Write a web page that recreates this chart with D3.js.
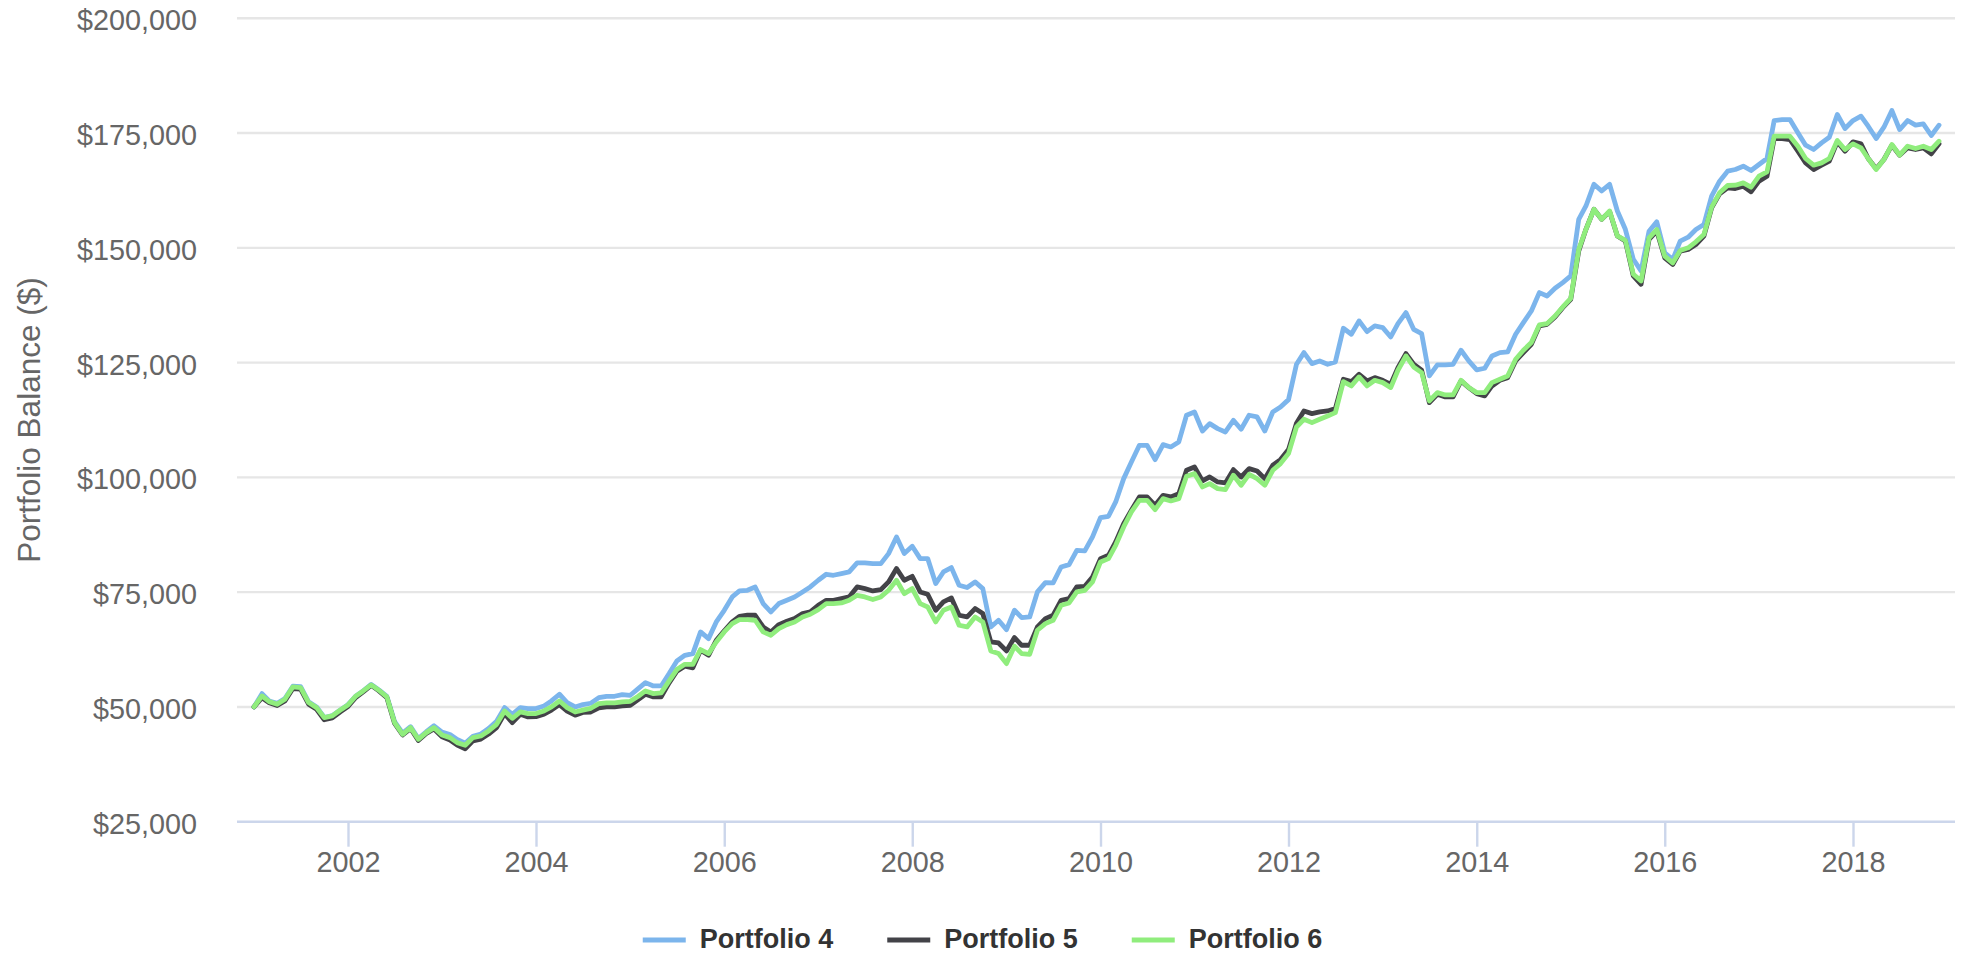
<!DOCTYPE html>
<html>
<head>
<meta charset="utf-8">
<script src="https://cdn.jsdelivr.net/npm/d3@7"></script>
<style>
    body { margin: 0; background: #fff; }
    svg { display: block; font-family: "Liberation Sans", Arial, Helvetica, sans-serif; }
    .axis .domain { stroke: #ccd6eb; stroke-width: 2.4; }
    .x.axis .tick line { stroke: #ccd6eb; stroke-width: 2.4; }
    .axis text { fill: #666666; font-size: 28.8px; }
</style>
</head>
<body>
<div id="chart"></div>
<script>
// monthly balances, Jan 2001 .. Dec 2018
const portfolio4 = [
    50000, 52900, 51300, 50800, 51800, 54500, 54400, 51100, 50000, 47700, 48100, 49300,
    50500, 52400, 53500, 54900, 53700, 52300, 46800, 44300, 45700, 43100, 44600, 45900,
    44500, 44000, 42900, 42100, 43600, 44100, 45300, 46900, 49850, 48400, 49850, 49640,
    49640, 50220, 51300, 52760, 50950, 50000, 50500, 50800, 52030, 52320, 52320, 52690,
    52540, 54000, 55300, 54570, 54570, 57260, 60020, 61250, 61620, 66340, 64880, 68510,
    71050, 73960, 75260, 75410, 76140, 72510, 70690, 72510, 73230, 73960, 75050, 76140,
    77590, 78900, 78680, 79040, 79400, 81360, 81360, 81220, 81220, 83400, 87030, 83400,
    85000, 82310, 82310, 76870, 79400, 80350, 76500, 76000, 77230, 75770, 67420, 68880,
    66840, 71050, 69460, 69600, 75050, 77080, 77010, 80490, 81000, 84120, 83980, 87030,
    91240, 91530, 94650, 99730, 103360, 106990, 106990, 103870, 107140, 106630, 107720, 113530,
    114250, 110110, 111710, 110620, 109900, 112440, 110480, 113530, 113160, 110110, 114250, 115340,
    116940, 124640, 127180, 124780, 125360, 124640, 125150, 132480, 131170, 134080, 131750, 132990,
    132620, 130590, 133490, 135890, 132260, 131320, 122100, 124490, 124490, 124640, 127690, 125360,
    123400, 123770, 126450, 127180, 127320, 131170, 133710, 136250, 140250, 139520, 141190, 142420,
    143880, 156220, 159120, 163840, 162390, 163840, 158030, 154040, 147510, 144970, 153630, 155660,
    148910, 147460, 151450, 152320, 153990, 155080, 161250, 164520, 166700, 167060, 167790, 166840,
    168150, 169460, 177730, 177950, 177950, 175050, 172360, 171420, 172870, 174100, 179040, 175990,
    177730, 178680, 176500, 173810, 176280, 179910, 175770, 177730, 176720, 177010, 174470, 176720
];

const portfolio5 = [
    50000, 52000, 50900, 50300, 51300, 54000, 53900, 50600, 49500, 47200, 47600, 48900,
    50100, 52100, 53300, 54700, 53500, 52000, 46400, 43900, 45300, 42700, 44200, 45200,
    43500, 42800, 41700, 40900, 42600, 43000, 44100, 45500, 48550, 46580, 48400, 47820,
    47900, 48400, 49300, 50500, 49100, 48200, 48800, 48900, 49780, 50000, 50000, 50220,
    50360, 51600, 52760, 52180, 52180, 55230, 57770, 58860, 58500, 62340, 61250, 64520,
    66560, 68510, 69750, 69970, 69970, 67420, 66340, 67930, 68660, 69240, 70330, 70690,
    72140, 73230, 73230, 73600, 73960, 76140, 75770, 75260, 75550, 77230, 80130, 77590,
    78460, 75050, 74540, 71050, 72870, 73740, 69970, 69600, 71420, 70330, 64160, 63940,
    62200, 65100, 63430, 63430, 67420, 69240, 69970, 73230, 73600, 76140, 76280, 78310,
    82310, 83030, 85940, 89930, 92830, 95740, 95740, 93920, 96100, 95740, 96460, 101550,
    102270, 99220, 100090, 99010, 98790, 101690, 100090, 101910, 101400, 99730, 102640, 103870,
    106050, 111800, 114470, 113890, 114250, 114470, 114980, 121370, 120860, 122460, 121010, 121730,
    121150, 120280, 123910, 126960, 124640, 123330, 116290, 118100, 117520, 117520, 121010, 119560,
    118250, 117740, 119920, 121150, 121730, 125360, 127180, 128990, 132990, 133350, 134950, 136980,
    138790, 149320, 154040, 158400, 156220, 157890, 152590, 151500, 143880, 142060, 151820, 153630,
    147820, 146370, 149270, 149640, 150730, 152540, 158710, 161760, 163070, 162920, 163430, 162200,
    164520, 165610, 173810, 173810, 173600, 171050, 168510, 167060, 168000, 168880, 173090, 171050,
    173090, 172650, 169460, 167210, 169240, 172360, 170180, 171780, 171420, 171780, 170470, 172650
];

const portfolio6 = [
    50000, 52400, 51160, 50580, 51670, 54360, 54200, 50950, 49850, 47670, 48040, 49270,
    50440, 52400, 53490, 54800, 53640, 52180, 46580, 44040, 45490, 42950, 44400, 45490,
    43900, 43310, 42220, 41640, 43310, 43670, 44770, 46220, 49130, 47530, 48910, 48550,
    48550, 49130, 50000, 51300, 49850, 48900, 49300, 49700, 50730, 50870, 50870, 51090,
    51230, 52320, 53490, 52900, 53050, 55660, 58130, 59290, 59290, 62490, 61620, 64150,
    66340, 68150, 69020, 69020, 68880, 66340, 65610, 67060, 67930, 68510, 69600, 70180,
    71200, 72510, 72510, 72650, 73230, 74320, 73960, 73380, 73960, 75410, 77590, 74680,
    75770, 72510, 71780, 68510, 71050, 71780, 67790, 67420, 69600, 68510, 62200, 61620,
    59440, 63210, 61620, 61470, 66700, 68150, 68880, 72140, 72650, 75050, 75410, 77230,
    81580, 82310, 85210, 89200, 92470, 95010, 95010, 92980, 95380, 94870, 95380, 100240,
    100820, 97920, 98640, 97550, 97330, 100460, 98280, 100670, 99730, 98280, 101550, 103000,
    105180, 110980, 112660, 111930, 112660, 113380, 114110, 120860, 119920, 121880, 119920, 121150,
    120640, 119560, 123330, 126450, 124060, 122820, 116650, 118470, 117960, 117960, 121150, 119560,
    118470, 118470, 120640, 121370, 122100, 125730, 127690, 129360, 133200, 133490, 135160, 137120,
    139010, 149680, 154040, 158400, 156220, 158030, 152590, 151640, 144240, 142790, 152180, 153990,
    148190, 146730, 149420, 150000, 151310, 152900, 158860, 161980, 163580, 163650, 164160, 163210,
    165610, 166550, 174320, 174320, 174320, 172140, 169460, 168000, 168510, 169460, 173380, 171420,
    172650, 171780, 169460, 167060, 169240, 172510, 170180, 172140, 171630, 172140, 171420, 173230
];

const seriesNames = ['Portfolio 4', 'Portfolio 5', 'Portfolio 6'];
const seriesColors = ['#7cb5ec', '#434348', '#90ed7d'];
const yTicks = [25000, 50000, 75000, 100000, 125000, 150000, 175000, 200000];
const xTickYears = [2002, 2004, 2006, 2008, 2010, 2012, 2014, 2016, 2018];

const width = 1965;
const height = 963;
const plot = {left: 237, right: 1955, top: 18.3, bottom: 821.7};

const months = d3.timeMonths(new Date(2001, 0, 1), new Date(2019, 0, 1));
const series = [portfolio4, portfolio5, portfolio6].map((values, k) => ({
    name: seriesNames[k],
    color: seriesColors[k],
    values: values.map((v, i) => ({date: months[i], value: v}))
}));

const x = d3.scaleTime()
    .domain([new Date(2001, 0, 1), new Date(2019, 0, 1)])
    .range([254, 1947]);

const y = d3.scaleLinear()
    .domain([25000, 200000])
    .range([plot.bottom, plot.top]);

const svg = d3.select('#chart')
    .append('svg')
    .attr('width', width)
    .attr('height', height);

// grid
svg.append('g')
    .selectAll('line')
    .data(yTicks.filter(d => d > 25000))
    .enter().append('line')
    .attr('x1', plot.left)
    .attr('x2', plot.right)
    .attr('y1', d => y(d))
    .attr('y2', d => y(d))
    .attr('stroke', '#e6e6e6')
    .attr('stroke-width', 2.4);

const xAxis = d3.axisBottom(x)
    .tickValues(xTickYears.map(yr => new Date(yr, 0, 1)))
    .tickFormat(d3.timeFormat('%Y'))
    .tickSizeInner(25)
    .tickSizeOuter(0)
    .tickPadding(5);

const xg = svg.append('g')
    .attr('class', 'x axis')
    .attr('transform', `translate(0,${plot.bottom})`)
    .call(xAxis);
xg.select('.domain').attr('d', `M${plot.left},0H${plot.right}`);

const yAxis = d3.axisLeft(y)
    .tickValues(yTicks)
    .tickFormat(d => '$' + d3.format(',')(d))
    .tickSize(0)
    .tickPadding(40);

const yg = svg.append('g')
    .attr('class', 'y axis')
    .attr('transform', `translate(${plot.left},0)`)
    .call(yAxis);
yg.select('.domain').remove();
yg.selectAll('text').attr('dy', '0.4em');

svg.append('text')
    .attr('transform', `translate(29,${(plot.top + plot.bottom) / 2}) rotate(-90)`)
    .attr('text-anchor', 'middle')
    .attr('dy', '0.35em')
    .style('font-size', '31.5px')
    .style('fill', '#666666')
    .text('Portfolio Balance ($)');

const line = d3.line()
    .x(d => x(d.date))
    .y(d => y(d.value));

svg.append('g')
    .selectAll('path')
    .data(series)
    .enter().append('path')
    .attr('fill', 'none')
    .attr('stroke', d => d.color)
    .attr('stroke-width', 4.8)
    .attr('stroke-linejoin', 'round')
    .attr('stroke-linecap', 'round')
    .attr('d', d => line(d.values));

// legend
const legend = svg.append('g');
const items = legend.selectAll('g')
    .data(series)
    .enter().append('g');

items.append('line')
    .attr('x1', 0)
    .attr('x2', 43)
    .attr('y1', 0)
    .attr('y2', 0)
    .attr('stroke', d => d.color)
    .attr('stroke-width', 4.8);

items.append('text')
    .attr('x', 57)
    .attr('y', 8)
    .style('font-size', '27px')
    .style('font-weight', 'bold')
    .style('fill', '#333333')
    .text(d => d.name);

let offset = 0;
items.each(function () {
    const w = this.getBBox().width;
    d3.select(this).attr('transform', `translate(${offset},940)`);
    offset += w + 54;
});
const legendWidth = offset - 54;
legend.attr('transform', `translate(${(width - legendWidth) / 2},0)`);
</script>
</body>
</html>
